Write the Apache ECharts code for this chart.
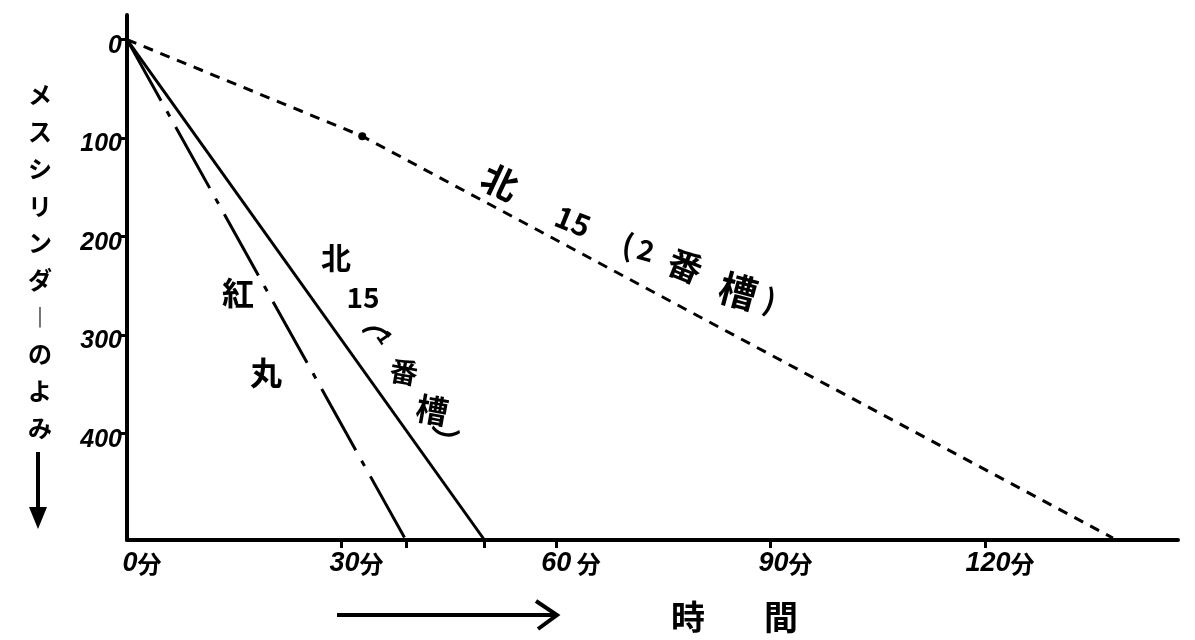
<!DOCTYPE html>
<html><head><meta charset="utf-8">
<script src="https://cdn.jsdelivr.net/npm/echarts@6/dist/echarts.min.js"></script>
<style>html,body{margin:0;padding:0;background:#fff}#c{width:1195px;height:640px}</style>
</head><body><div id="c"></div>
<script>
// data (minutes, cylinder reading)
const beniTime = [0, 39.0];
const beniLevel = [0, 508];
const kita1Time = [0, 50.0];
const kita1Level = [0, 508];
const kita2Time = [0, 32.9, 137.9];
const kita2Level = [0, 98, 506];
const xLabelValues = [0, 30, 60, 90, 120];
const xTickValues = [30, 39, 50, 60, 90, 120];
const yTickValues = [0, 100, 200, 300, 400];

const pairs = (a, b) => a.map((v, i) => [v, b[i]]);
const chart = echarts.init(document.getElementById('c'));
const CJK = '"Noto Sans CJK JP", sans-serif';
const NUM = '"Liberation Sans", "DejaVu Sans", sans-serif';
const deg = d => d * Math.PI / 180;
function t(text, x, y, size, rot, extra) {
  return Object.assign({type: 'text', x: x, y: y, rotation: rot ? deg(rot) : 0,
    style: {text: text, fill: '#000', font: 'bold ' + size + 'px ' + CJK, align: 'center', verticalAlign: 'middle'}}, extra || {});
}
const kita2Pts = pairs(kita2Time, kita2Level).map((p, i) => i === 1 ? {value: p, symbol: 'circle', symbolSize: 8} : {value: p, symbol: 'none'});

chart.setOption({
  backgroundColor: '#fff',
  animation: false,
  grid: {left: 127, right: 17, top: 15, bottom: 100},
  xAxis: {
    type: 'value', min: 0, max: 147,
    axisLine: {onZero: false, lineStyle: {color: '#000', width: 4}},
    splitLine: {show: false},
    axisTick: {customValues: xTickValues, length: 8, lineStyle: {color: '#000', width: 3}},
    axisLabel: {customValues: xLabelValues, margin: 10, color: '#000', padding: [0, 0, 0, 30],
      formatter: v => '{n|' + v + '}{f|' + (v === 60 ? ' 分' : '分') + '}',
      rich: {n: {fontFamily: NUM, fontStyle: 'italic', fontWeight: 'bold', fontSize: 27, color: '#000'},
             f: {fontFamily: CJK, fontWeight: 'bold', fontSize: 24, color: '#000'}}}
  },
  yAxis: {
    type: 'value', inverse: true, min: -25, max: 508,
    axisLine: {onZero: false, lineStyle: {color: '#000', width: 4}},
    splitLine: {show: false},
    axisTick: {customValues: yTickValues, length: 7, lineStyle: {color: '#000', width: 3}},
    axisLabel: {customValues: yTickValues, margin: 5, color: '#000', fontFamily: NUM, fontStyle: 'italic',
      fontWeight: 'bold', fontSize: 25, verticalAlign: 'top', lineHeight: 12}
  },
  series: [
    {type: 'line', name: '紅丸', data: pairs(beniTime, beniLevel), symbol: 'none',
     lineStyle: {color: '#000', width: 3, type: [70, 12, 6, 12]}},
    {type: 'line', name: '北15(1番槽)', data: pairs(kita1Time, kita1Level), symbol: 'none',
     lineStyle: {color: '#000', width: 3}},
    {type: 'line', name: '北15(2番槽)', data: kita2Pts, itemStyle: {color: '#000'},
     lineStyle: {color: '#000', width: 3, type: [10, 8]}}
  ],
  graphic: [
    // y axis name (vertical) and arrow
    {type: 'text', x: 40, y: 76, style: {text: 'メ\nス\nシ\nリ\nン\nダ\n︱\nの\nよ\nみ', fill: '#000',
      font: 'bold 24px ' + CJK, align: 'center', verticalAlign: 'top', lineHeight: 37}},
    {type: 'line', shape: {x1: 38, y1: 452, x2: 38, y2: 512}, style: {stroke: '#000', lineWidth: 4}},
    {type: 'polygon', shape: {points: [[29, 507], [47, 507], [38, 529]]}, style: {fill: '#000'}},
    // x axis name and arrow
    t('時', 688, 617, 34), t('間', 781, 617, 34),
    {type: 'line', shape: {x1: 337, y1: 615, x2: 556, y2: 615}, style: {stroke: '#000', lineWidth: 4}},
    {type: 'polyline', shape: {points: [[536, 601], [557, 615], [538, 629]]}, style: {stroke: '#000', lineWidth: 4, fill: null}},
    // 紅丸
    t('紅', 238, 293, 32), t('丸', 266, 373, 32),
    // 北15(1番槽)
    t('北', 336, 258, 30), t('15', 363, 297, 28),
    t('︵', 378, 322, 30, -10), t('1', 385, 337, 20, -55),
    t('番', 404, 372, 28, -10), t('槽', 432, 410, 32, -10), t('︶', 444, 441, 30, -10),
    // 北15(2番槽)
    t('北', 500, 182, 36, -25), t('15', 573, 221, 30, -22),
    t('(', 628, 245, 30, -10), t('2', 646, 250, 28, -15),
    t('番', 685, 266, 34, -22), t('槽', 738, 291, 38, -15), t(')', 770, 300, 30, -15)
  ]
});
</script></body></html>
